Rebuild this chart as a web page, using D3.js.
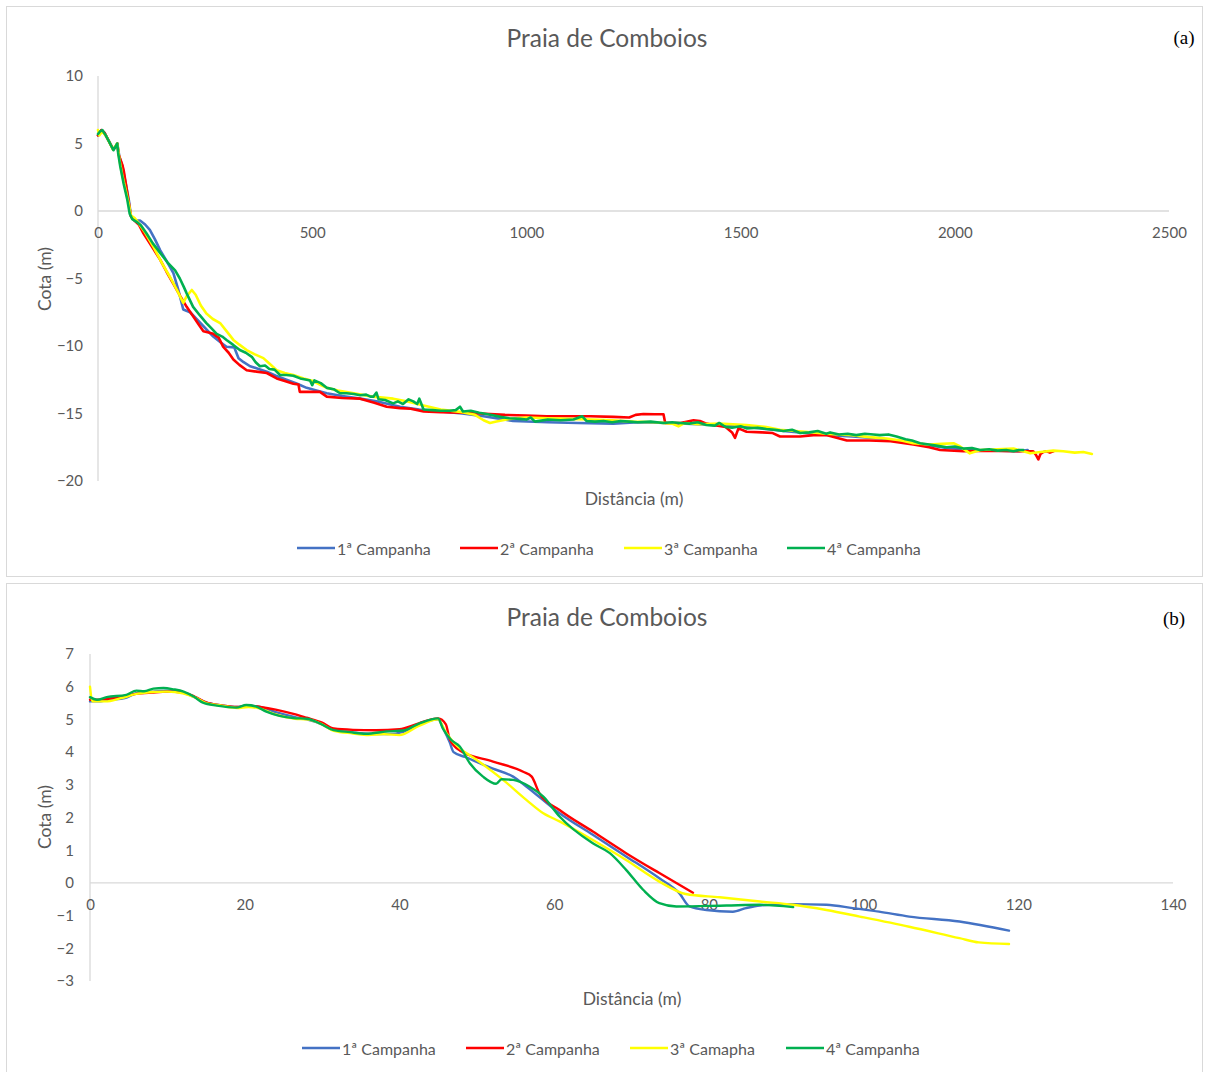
<!DOCTYPE html>
<html>
<head>
<meta charset="utf-8">
<script src="https://cdn.jsdelivr.net/npm/d3@7"></script>
<style>
  html, body { margin: 0; padding: 0; background: #fff; }
  svg { display: block; }
  text { font-family: Lato, "Open Sans", sans-serif; fill: #595959; }
</style>
</head>
<body>
<svg id="chart" width="1209" height="1072"></svg>
<script>
// ---- Series labels and colours ----
const seriesNamesA = ["1ª Campanha", "2ª Campanha", "3ª Campanha", "4ª Campanha"];
const seriesNamesB = ["1ª Campanha", "2ª Campanha", "3ª Camapha", "4ª Campanha"];
const seriesColors = ["#4472C4", "#FF0000", "#FFFF00", "#00B050"];

// ---- Tick values ----
const xTicksA = [0, 500, 1000, 1500, 2000, 2500];
const yTicksA = [-20, -15, -10, -5, 0, 5, 10];
const xTicksB = [0, 20, 40, 60, 80, 100, 120, 140];
const yTicksB = [-3, -2, -1, 0, 1, 2, 3, 4, 5, 6, 7];

// ---- Panel (a): full profiles, [distance (m), elevation (m)] ----
const campanha1A = [[0,5.6],[8,6.0],[15,5.8],[25,5.2],[35,4.6],[40,4.7],[45,5.0],[50,4.0],[57,3.3],[65,2.0],[72,0.8],[77,-0.4],[85,-0.7],[98,-0.7],[110,-1.0],[121,-1.4],[133,-2.1],[145,-2.9],[160,-3.7],[176,-4.6],[188,-5.9],[199,-7.3],[215,-7.5],[230,-8.0],[245,-8.5],[269,-9.3],[285,-9.7],[300,-10.05],[318,-10.1],[328,-10.9],[340,-11.2],[355,-11.5],[375,-11.7],[394,-11.9],[415,-12.2],[440,-12.5],[465,-12.8],[487,-13.1],[510,-13.3],[534,-13.5],[570,-13.7],[612,-13.9],[650,-14.1],[705,-14.5],[750,-14.7],[800,-14.85],[850,-15.0],[900,-15.2],[969,-15.55],[1050,-15.65],[1120,-15.7],[1203,-15.75],[1260,-15.65],[1330,-15.7],[1400,-15.8],[1470,-15.9],[1514,-16.0],[1560,-16.15],[1600,-16.3],[1650,-16.45],[1709,-16.6],[1760,-16.7],[1825,-16.85],[1880,-17.1],[1930,-17.3],[1980,-17.55],[2040,-17.7],[2100,-17.75],[2150,-17.8],[2170,-17.7]];

const campanha2A = [[0,5.6],[8,6.0],[15,5.8],[25,5.2],[35,4.6],[40,4.7],[45,5.0],[48,4.2],[57,3.4],[60,3.0],[70,1.0],[77,-0.4],[85,-0.7],[95,-1.0],[106,-1.65],[125,-2.6],[145,-3.6],[160,-4.5],[176,-5.4],[192,-6.3],[207,-7.1],[222,-7.8],[235,-8.4],[246,-8.9],[258,-9.0],[269,-9.1],[282,-9.4],[292,-10.05],[305,-10.5],[316,-11.0],[330,-11.4],[347,-11.8],[370,-11.9],[394,-12.0],[417,-12.4],[436,-12.6],[456,-12.8],[468,-12.85],[471,-13.4],[495,-13.4],[518,-13.4],[534,-13.75],[570,-13.85],[612,-13.9],[645,-14.2],[674,-14.5],[705,-14.6],[730,-14.65],[760,-14.85],[800,-14.9],[850,-14.95],[892,-15.0],[950,-15.1],[1000,-15.15],[1047,-15.2],[1100,-15.2],[1150,-15.2],[1203,-15.25],[1240,-15.3],[1255,-15.1],[1273,-15.04],[1300,-15.05],[1320,-15.05],[1324,-15.7],[1360,-15.7],[1390,-15.5],[1405,-15.55],[1420,-15.75],[1436,-15.85],[1465,-16.0],[1480,-16.4],[1487,-16.8],[1495,-16.1],[1514,-16.35],[1550,-16.4],[1575,-16.45],[1592,-16.7],[1639,-16.7],[1670,-16.6],[1700,-16.6],[1748,-17.0],[1800,-17.0],[1850,-17.05],[1903,-17.3],[1940,-17.5],[1966,-17.7],[2020,-17.8],[2080,-17.75],[2140,-17.8],[2183,-17.8],[2190,-18.1],[2195,-18.4],[2200,-18.0],[2207,-17.85],[2214,-17.8],[2222,-17.9],[2230,-17.8]];

const campanha3A = [[0,6.0],[3,5.6],[10,5.9],[20,5.5],[35,4.55],[45,5.0],[50,3.8],[57,2.6],[65,1.5],[72,0.5],[77,-0.35],[85,-0.5],[95,-0.9],[110,-1.6],[130,-2.7],[150,-3.9],[170,-5.0],[185,-5.9],[199,-6.8],[207,-6.3],[219,-5.85],[228,-6.2],[240,-7.0],[253,-7.6],[268,-8.0],[285,-8.3],[300,-8.9],[316,-9.55],[330,-9.9],[347,-10.3],[365,-10.6],[386,-10.9],[400,-11.3],[417,-11.8],[436,-12.0],[456,-12.15],[480,-12.4],[502,-12.6],[520,-12.9],[534,-13.1],[560,-13.3],[597,-13.5],[640,-13.75],[689,-13.9],[720,-14.1],[760,-14.4],[800,-14.7],[850,-14.9],[880,-15.1],[900,-15.5],[915,-15.7],[930,-15.6],[960,-15.4],[1000,-15.3],[1050,-15.35],[1100,-15.4],[1150,-15.45],[1200,-15.5],[1250,-15.6],[1300,-15.65],[1340,-15.75],[1355,-15.95],[1370,-15.7],[1400,-15.8],[1450,-15.75],[1514,-15.85],[1560,-16.0],[1592,-16.2],[1650,-16.35],[1700,-16.5],[1760,-16.6],[1800,-16.75],[1840,-16.85],[1875,-17.0],[1903,-17.2],[1940,-17.3],[1970,-17.25],[1997,-17.2],[2010,-17.4],[2035,-17.95],[2060,-17.7],[2100,-17.65],[2137,-17.6],[2160,-17.8],[2176,-17.95],[2200,-17.85],[2230,-17.75],[2253,-17.8],[2280,-17.9],[2300,-17.85],[2320,-18.0]];

const campanha4A = [[0,5.7],[5,5.9],[10,6.0],[18,5.6],[25,5.2],[36,4.5],[45,5.0],[47,4.3],[52,3.3],[60,2.0],[68,0.9],[74,-0.2],[80,-0.6],[90,-0.8],[100,-1.05],[113,-1.65],[128,-2.4],[145,-3.1],[162,-3.8],[180,-4.4],[191,-5.0],[200,-5.6],[207,-6.1],[222,-7.1],[237,-7.7],[253,-8.3],[265,-8.7],[277,-9.1],[290,-9.3],[300,-9.55],[315,-9.9],[331,-10.3],[345,-10.5],[359,-10.8],[368,-11.2],[378,-11.5],[390,-11.45],[400,-11.7],[412,-11.75],[425,-12.15],[440,-12.15],[456,-12.2],[472,-12.4],[487,-12.5],[495,-12.55],[500,-12.9],[505,-12.55],[520,-12.75],[534,-13.1],[550,-13.2],[565,-13.5],[580,-13.5],[597,-13.55],[612,-13.65],[626,-13.6],[636,-13.75],[643,-13.75],[650,-13.45],[655,-13.95],[670,-14.0],[689,-14.25],[700,-14.1],[712,-14.3],[725,-13.95],[736,-14.1],[745,-14.3],[750,-13.9],[760,-14.7],[780,-14.75],[800,-14.8],[820,-14.8],[835,-14.75],[845,-14.5],[852,-14.85],[870,-14.8],[890,-14.95],[910,-15.05],[940,-15.25],[960,-15.35],[985,-15.4],[1000,-15.45],[1010,-15.3],[1020,-15.6],[1050,-15.45],[1080,-15.5],[1110,-15.45],[1130,-15.2],[1140,-15.55],[1160,-15.6],[1180,-15.55],[1200,-15.65],[1220,-15.55],[1240,-15.6],[1260,-15.65],[1290,-15.6],[1320,-15.7],[1340,-15.65],[1359,-15.7],[1380,-15.75],[1400,-15.65],[1420,-15.85],[1440,-15.9],[1450,-15.7],[1465,-16.0],[1480,-16.05],[1500,-15.95],[1514,-16.1],[1540,-16.05],[1560,-16.15],[1580,-16.2],[1600,-16.3],[1620,-16.2],[1639,-16.45],[1660,-16.4],[1680,-16.3],[1700,-16.5],[1709,-16.4],[1730,-16.55],[1750,-16.5],[1770,-16.6],[1790,-16.5],[1810,-16.55],[1825,-16.6],[1845,-16.55],[1864,-16.7],[1885,-16.9],[1900,-17.0],[1919,-17.2],[1940,-17.3],[1960,-17.4],[1981,-17.5],[2000,-17.45],[2020,-17.6],[2040,-17.55],[2059,-17.7],[2080,-17.65],[2100,-17.75],[2120,-17.7],[2137,-17.8],[2150,-17.7],[2160,-17.7]];

// ---- Panel (b): first 120 m of the profiles ----
const campanha1B = [[0,5.55],[1,5.55],[2.5,5.6],[4.5,5.65],[6,5.8],[8,5.85],[10,5.88],[12,5.82],[13.5,5.68],[15,5.52],[17,5.43],[19,5.38],[20.5,5.42],[22,5.38],[24,5.22],[26.5,5.07],[28,5.0],[30,4.85],[31.5,4.67],[34,4.6],[36,4.56],[38.5,4.55],[40.5,4.62],[42.5,4.85],[45,5.0],[45.7,4.7],[46.5,4.3],[47,4.0],[48.5,3.85],[52,3.5],[54.7,3.25],[56.4,2.95],[60.7,2.13],[65,1.47],[69.3,0.81],[73.6,0.14],[76.2,-0.32],[77.5,-0.72],[79.7,-0.83],[83.1,-0.88],[84.8,-0.77],[86.6,-0.69],[90.9,-0.65],[95.2,-0.67],[98.6,-0.77],[102,-0.88],[105.9,-1.03],[112.4,-1.18],[118.8,-1.46]];

const campanha2B = [[0,5.6],[2,5.62],[4,5.7],[6,5.78],[8,5.82],[10,5.85],[12,5.82],[13.5,5.7],[15,5.52],[17,5.43],[19,5.38],[20.5,5.42],[22,5.38],[24,5.3],[26.3,5.17],[28,5.05],[30,4.9],[31.5,4.72],[34,4.68],[37,4.67],[40,4.7],[42.5,4.88],[45,5.03],[46,4.85],[46.5,4.4],[47.8,4.05],[52.1,3.71],[56,3.4],[57.1,3.25],[58.1,2.74],[60.7,2.23],[65,1.57],[69.3,0.91],[73.6,0.3],[77.95,-0.3]];

const campanha3B = [[0,6.0],[0.3,5.55],[2,5.55],[4,5.65],[6,5.78],[8,5.84],[10,5.85],[12,5.8],[13.5,5.68],[15,5.5],[17,5.42],[19,5.35],[20.5,5.38],[22,5.33],[24,5.15],[26.5,5.02],[28,5.0],[30,4.85],[31.5,4.65],[34,4.57],[36,4.52],[38,4.55],[40,4.52],[42.5,4.8],[45,5.0],[46,4.6],[47,4.3],[47.8,4.12],[50,3.76],[53.4,3.15],[56.4,2.54],[58.6,2.13],[60.7,1.88],[65,1.31],[69.3,0.7],[73.6,0.04],[77,-0.34],[81.4,-0.44],[86.6,-0.57],[90.9,-0.67],[95.2,-0.83],[99.5,-1.03],[105.9,-1.34],[112.4,-1.69],[114.9,-1.82],[118.8,-1.87]];

const campanha4B = [[0,5.68],[0.9,5.6],[2.15,5.68],[4.7,5.75],[6,5.88],[7,5.86],[8.2,5.94],[9.5,5.96],[10.8,5.92],[12.1,5.85],[13.4,5.7],[14.6,5.51],[16.4,5.42],[18.9,5.36],[20.2,5.44],[21.5,5.39],[22.8,5.24],[24.5,5.11],[26.3,5.04],[28,5.02],[29.7,4.88],[31.4,4.68],[33.6,4.61],[35.7,4.56],[38.3,4.63],[40.5,4.66],[42.6,4.88],[45,5.03],[45.6,4.73],[46.7,4.37],[47.8,4.17],[49.1,3.66],[50.8,3.25],[52.5,3.03],[53.2,3.17],[54.7,3.15],[56.8,2.95],[58.6,2.64],[60.7,2.03],[65,1.21],[67.2,0.91],[69.3,0.4],[71.5,-0.21],[73.6,-0.62],[75.8,-0.72],[82.3,-0.69],[86.6,-0.67],[90.9,-0.74]];

const svg = d3.select("#chart");
const gridColor = "#d9d9d9";

function drawPanel(cfg) {
  const g = svg.append("g");

  // panel frame
  g.append("rect")
    .attr("x", cfg.frame[0] + 0.5).attr("y", cfg.frame[1] + 0.5)
    .attr("width", cfg.frame[2]).attr("height", cfg.frame[3])
    .attr("fill", "#fff").attr("stroke", gridColor).attr("stroke-width", 1);

  const x = d3.scaleLinear().domain(cfg.xDomain).range(cfg.xRange);
  const y = d3.scaleLinear().domain(cfg.yDomain).range(cfg.yRange);

  // vertical axis line at x = 0
  g.append("line")
    .attr("x1", x(0)).attr("x2", x(0))
    .attr("y1", y(cfg.yDomain[1])).attr("y2", y(cfg.yDomain[0]))
    .attr("stroke", gridColor).attr("stroke-width", 1.3);

  // horizontal axis line at elevation 0
  g.append("line")
    .attr("x1", x(cfg.xDomain[0])).attr("x2", x(cfg.xDomain[1]))
    .attr("y1", y(0)).attr("y2", y(0))
    .attr("stroke", gridColor).attr("stroke-width", 1.3);

  // y tick labels
  const yAxis = g.append("g")
    .attr("transform", `translate(${x(0)},0)`)
    .call(d3.axisLeft(y).tickValues(cfg.yTicks).tickSize(0).tickPadding(cfg.yPad).tickFormat(d3.format("d")));
  yAxis.select(".domain").remove();
  yAxis.selectAll("text").style("font-size", "15px").attr("fill", "#595959")
    .style("font-family", "Lato, sans-serif");

  // x tick labels (hang below the zero line)
  const xAxis = g.append("g")
    .attr("transform", `translate(0,${y(0)})`)
    .call(d3.axisBottom(x).tickValues(cfg.xTicks).tickSize(0).tickPadding(16).tickFormat(d3.format("d")));
  xAxis.select(".domain").remove();
  xAxis.selectAll("text").style("font-size", "15px").attr("fill", "#595959")
    .style("font-family", "Lato, sans-serif");

  // profile lines
  const line = d3.line()
    .x(d => x(d[0])).y(d => y(d[1]))
    .curve(cfg.curve);
  cfg.series.forEach((s, i) => {
    g.append("path")
      .datum(s)
      .attr("fill", "none")
      .attr("stroke", seriesColors[i])
      .attr("stroke-width", cfg.lineWidth)
      .attr("stroke-linejoin", "round")
      .attr("stroke-linecap", "round")
      .attr("d", line);
  });

  // title and panel letter
  g.append("text")
    .attr("x", 607).attr("y", cfg.titleY)
    .attr("text-anchor", "middle").attr("dominant-baseline", "central")
    .style("font-size", "24.5px")
    .text("Praia de Comboios");
  g.append("text")
    .attr("x", cfg.letterX).attr("y", cfg.letterY)
    .attr("text-anchor", "middle").attr("dominant-baseline", "central")
    .style("font-family", "'Liberation Serif', 'DejaVu Serif', serif")
    .style("font-size", "19px").style("fill", "#000")
    .text(cfg.letter);

  // axis titles
  g.append("text")
    .attr("x", cfg.xTitle[0]).attr("y", cfg.xTitle[1])
    .attr("text-anchor", "middle").attr("dominant-baseline", "central")
    .style("font-size", "17.5px")
    .text("Distância (m)");
  g.append("text")
    .attr("transform", `translate(${cfg.yTitle[0]},${cfg.yTitle[1]}) rotate(-90)`)
    .attr("text-anchor", "middle").attr("dominant-baseline", "central")
    .style("font-size", "17.5px")
    .text("Cota (m)");

  // legend
  const lg = g.append("g");
  cfg.legendNames.forEach((name, i) => {
    const lx = cfg.legendX[i];
    lg.append("line")
      .attr("x1", lx).attr("x2", lx + 38)
      .attr("y1", cfg.legendY).attr("y2", cfg.legendY)
      .attr("stroke", seriesColors[i]).attr("stroke-width", 2.5);
    lg.append("text")
      .attr("x", lx + 40).attr("y", cfg.legendY)
      .attr("dominant-baseline", "central")
      .style("font-size", "16px")
      .text(name);
  });
}

drawPanel({
  frame: [6, 6, 1196, 570],
  xDomain: [0, 2500], xRange: [98, 1169],
  yDomain: [-20, 10], yRange: [481, 76],
  xTicks: xTicksA, yTicks: yTicksA, yPad: 15,
  series: [campanha1A, campanha2A, campanha3A, campanha4A],
  curve: d3.curveLinear, lineWidth: 2.6,
  titleY: 37, letter: "(a)", letterX: 1184, letterY: 37,
  xTitle: [634, 498], yTitle: [44, 279],
  legendNames: seriesNamesA, legendX: [297, 460, 624, 787], legendY: 548
});

drawPanel({
  frame: [6, 583, 1196, 500],
  xDomain: [0, 140], xRange: [90, 1173],
  yDomain: [-3, 7], yRange: [981, 654],
  xTicks: xTicksB, yTicks: yTicksB, yPad: 16,
  series: [campanha1B, campanha2B, campanha3B, campanha4B],
  curve: d3.curveMonotoneX, lineWidth: 2.4,
  titleY: 616, letter: "(b)", letterX: 1174, letterY: 618,
  xTitle: [632, 998], yTitle: [44, 817],
  legendNames: seriesNamesB, legendX: [302, 466, 630, 786], legendY: 1048
});
</script>
</body>
</html>
